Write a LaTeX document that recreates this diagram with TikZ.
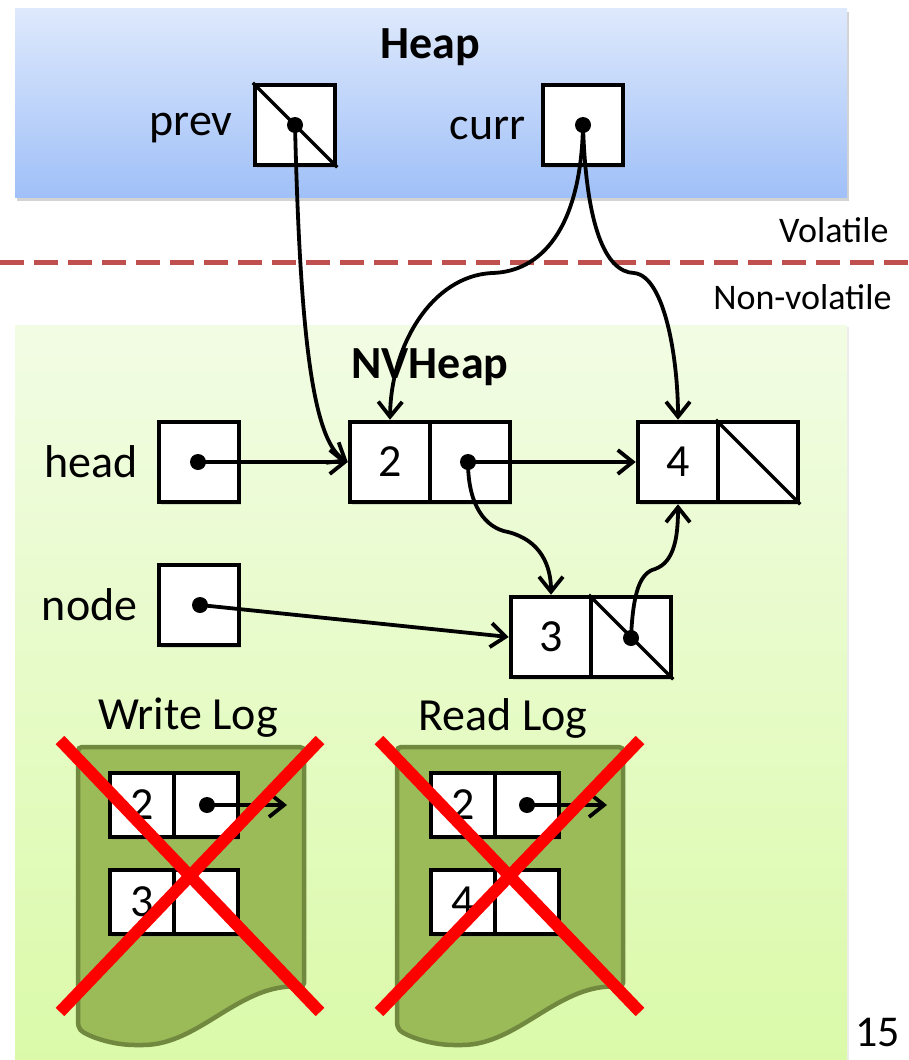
\documentclass[tikz,border=0pt]{standalone}
\usepackage{fontspec}
\setmainfont{Carlito}
\usetikzlibrary{arrows.meta,shadows}
\definecolor{dashred}{RGB}{192,80,77}
\definecolor{heaptop}{RGB}{222,233,252}
\definecolor{heapbot}{RGB}{160,192,248}
\definecolor{nvtop}{RGB}{242,252,228}
\definecolor{nvbot}{RGB}{218,250,168}
\definecolor{logfill}{RGB}{155,187,89}
\definecolor{logdraw}{RGB}{113,137,63}
\begin{document}
\begin{tikzpicture}[x=1pt,y=-1pt,
  big/.style={font=\fontsize{46}{50}\selectfont},
  small/.style={font=\fontsize{36}{40}\selectfont},
  shad/.style={drop shadow={shadow xshift=1.5pt,shadow yshift=-3pt,opacity=0.25}},
  cell/.style={draw,line width=4.5pt,fill=white,minimum width=80pt,minimum height=80pt,inner sep=0pt,big,shad},
  logcell/.style={draw,line width=4.5pt,fill=white,minimum width=64pt,minimum height=64pt,inner sep=0pt,big,shad},
  dotn/.style={circle,fill=black,inner sep=0pt,minimum size=16pt},
  ptr/.style={line width=3.8pt,-{Straight Barb[length=15pt,width=24pt,line width=3.8pt]}},
  cross/.style={red,line width=12pt},
  logdoc/.style={fill=logfill,draw=logdraw,line width=4.5pt,rounded corners=4pt}]
\useasboundingbox (0,0) rectangle (908,1060);
% Heap region
\node[draw=none,top color=heaptop,bottom color=heapbot,minimum width=832pt,minimum height=189pt,inner sep=0pt,
  drop shadow={shadow xshift=2pt,shadow yshift=-4pt,opacity=0.35}] (heap) at (431,102.5) {};
\node[font=\fontsize{46}{50}\selectfont\bfseries] (heaptitle) at (430,47) {Heap};
% NV heap region
\node[draw=none,top color=nvtop,bottom color=nvbot,minimum width=832pt,minimum height=745pt,inner sep=0pt,
  drop shadow={shadow xshift=2pt,shadow yshift=-2pt,opacity=0.15}] (nv) at (431,697.5) {};
\node[font=\fontsize{46}{50}\selectfont\bfseries] (nvtitle) at (430,367) {NVHeap};
% Divider
\draw[dashred,line width=5pt,dash pattern=on 24pt off 10pt] (0,262) coordinate (dl) -- (908,262) coordinate (dr);
\node[small,anchor=east] (vol) at (892,230) {Volatile};
\node[small,anchor=east] (nonvol) at (895,297) {Non-volatile};
% Heap cells
\node[cell] (prev) at (295,125) {};
\draw[line width=3.5pt] (prev.north west) -- (prev.south east);
\node[big,anchor=east] (prevl) at (236,128) {prev};
\node[dotn] (prevd) at (295,125) {};
\node[cell] (curr) at (583,125) {};
\node[big,anchor=east] (currl) at (529,128) {curr};
\node[dotn] (currd) at (583,125) {};
% NV cells
\node[cell] (head) at (199,462) {};
\node[big,anchor=east] (headl) at (141,462) {head};
\node[dotn] (headd) at (198,462) {};
\node[cell] (n2a) at (390,462) {2};
\node[cell] (n2b) at (470,462) {};
\node[dotn] (n2d) at (468,462) {};
\node[cell] (n4a) at (678,462) {4};
\node[cell] (n4b) at (758,462) {};
\draw[line width=3.5pt] (n4b.north west) -- (n4b.south east);
\node[cell] (nodeb) at (199,605) {};
\node[big,anchor=east] (nodel) at (141,605) {node};
\node[dotn] (noded) at (200,605) {};
\node[cell] (n3a) at (551,637) {3};
\node[cell] (n3b) at (631,637) {};
\draw[line width=3.5pt] (n3b.north west) -- (n3b.south east);
\node[dotn] (n3d) at (631,638) {};
% pointers
\draw[ptr] (headd.center) -- (n2a.west);
\draw[ptr] (n2d.center) -- (n4a.west);
\draw[ptr] (noded.center) -- (n3a.west);
\draw[ptr] (prevd.center) .. controls (300,330) and (312,440) .. (n2a.west);
\draw[ptr] (currd.center) .. controls (581,230) and (540,272) .. (492,273) .. controls (432,276) and (391,345) .. (n2a.north);
\draw[ptr] (currd.center) .. controls (586,225) and (605,272) .. (634,273) .. controls (665,276) and (678,360) .. (n4a.north);
\draw[ptr] (n2d.center) .. controls (468,505) and (485,528) .. (508,532) .. controls (540,540) and (551,565) .. (n3a.north);
\draw[ptr] (n3d.center) .. controls (633,592) and (640,573) .. (655,569) .. controls (675,562) and (678,535) .. (n4a.south);
% Logs
\node[big] (wlt) at (188,718) {Write Log};
\node[big] (rlt) at (503,718) {Read Log};
\draw[logdoc] (78,747) coordinate (wl) -- (304,747) -- (304,987) .. controls (240,982) and (200,1045) .. (139,1045) .. controls (110,1045) and (85,1035) .. (78,1027) -- cycle;
\draw[logdoc] (397,747) coordinate (rl) -- (623,747) -- (623,987) .. controls (559,982) and (519,1045) .. (458,1045) .. controls (429,1045) and (404,1035) .. (397,1027) -- cycle;
\node[logcell] (w1a) at (142,805) {2};
\node[logcell] (w1b) at (206,805) {};
\node[dotn] (w1d) at (207,805) {};
\coordinate (w1e) at (287,805);
\draw[ptr] (w1d.center) -- (w1e);
\node[logcell] (w2a) at (142,902) {3};
\node[logcell] (w2b) at (206,902) {};
\node[logcell] (r1a) at (463,805) {2};
\node[logcell] (r1b) at (527,805) {};
\node[dotn] (r1d) at (527,805) {};
\coordinate (r1e) at (607,805);
\draw[ptr] (r1d.center) -- (r1e);
\node[logcell] (r2a) at (463,902) {4};
\node[logcell] (r2b) at (527,902) {};
% crosses
\draw[cross] (60,740) -- (320,1012);
\draw[cross] (320,740) -- (60,1012);
\draw[cross] (379,740) -- (640,1012);
\draw[cross] (640,740) -- (379,1012);
% page number
\node[font=\fontsize{44}{46}\selectfont,anchor=base east,inner sep=0pt] (pg) at (900,1046) {15};
\end{tikzpicture}
\end{document}
